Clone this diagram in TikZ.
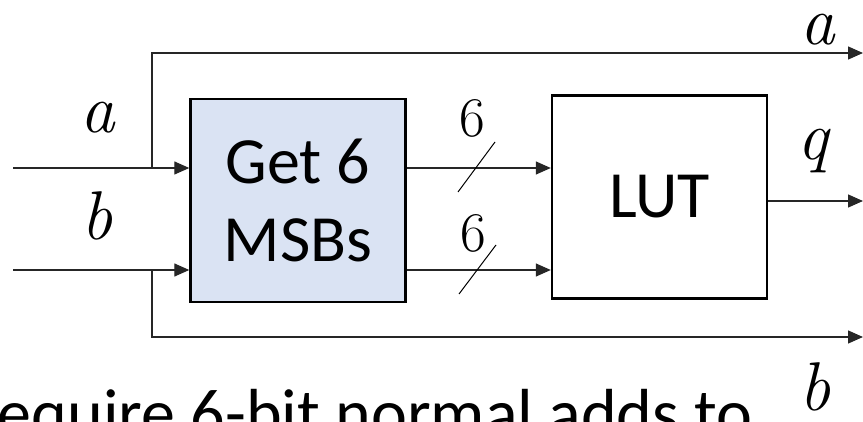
\documentclass[tikz,border=0pt]{standalone}
\usepackage{fontspec}
\setmainfont{Carlito}
\newfontfamily\lmfont{Latin Modern Roman}
\usetikzlibrary{arrows.meta}
\definecolor{boxblue}{HTML}{DAE3F3}
\tikzset{
  blk/.style={draw=black, line width=2.4pt, minimum width=215pt, minimum height=203pt,
    inner sep=0pt, align=center, font=\fontsize{66}{78}\selectfont},
  wire/.style={line width=1.3pt, draw=black!85},
  arr/.style={wire, -{Triangle[length=15pt,width=13pt]}},
  tick/.style={line width=1pt, draw=black},
  var/.style={inner sep=0pt, anchor=base, font=\lmfont\itshape\fontsize{69}{80}\selectfont},
  busw/.style={inner sep=0pt, anchor=base, font=\lmfont\fontsize{56}{66}\selectfont},
  caption/.style={inner sep=0pt, anchor=base west, font=\fontsize{68}{80}\selectfont}
}
\begin{document}
\begin{tikzpicture}[x=1pt, y=-1pt]
  \useasboundingbox (0,0) rectangle (863,422);
  \clip (0,0) rectangle (863,422);

  % blocks
  \node[blk, fill=boxblue] (get) at (298,200.5) {Get 6\\MSBs};
  \node[blk, fill=white] (lut) at (659.5,197) {LUT};

  % inputs and bypass taps
  \coordinate (inA) at (13,168);
  \coordinate (inB) at (13,270);
  \coordinate (tapA) at (152,168);
  \coordinate (tapB) at (152,270);
  \coordinate (outA) at (863,53);
  \coordinate (outB) at (863,337);
  \coordinate (outQ) at (863,201);

  \draw[arr] (inA) -- (inA -| get.west);
  \draw[arr] (inB) -- (inB -| get.west);
  \draw[arr] (tapA) |- (outA);
  \draw[arr] (tapB) |- (outB);

  % 6-bit buses into the LUT
  \draw[arr] (inA -| get.east) -- (inA -| lut.west);
  \draw[arr] (inB -| get.east) -- (inB -| lut.west);
  \coordinate (sA1) at (458,192);
  \coordinate (sA2) at (495,142);
  \coordinate (sB1) at (459,294);
  \coordinate (sB2) at (496,245);
  \draw[tick] (sA1) -- (sA2);
  \draw[tick] (sB1) -- (sB2);

  % LUT output
  \draw[arr] (outQ -| lut.east) -- (outQ);

  % labels
  \node[var] (la) at (98,133) {a};
  \node[var] (lb) at (97,240) {b};
  \node[var, text height=0.45em] (ra) at (818,45) {a};
  \node[var] (rq) at (813,160) {q};
  \node[var] (rb) at (815,410) {b};
  \node[busw] (wa) at (472,137) {6};
  \node[busw] (wb) at (473,252) {6};

  % caption running off the lower and left edges
  \node[caption] (cap) at (-38,436) {Require 6-bit normal adds to};
\end{tikzpicture}
\end{document}
